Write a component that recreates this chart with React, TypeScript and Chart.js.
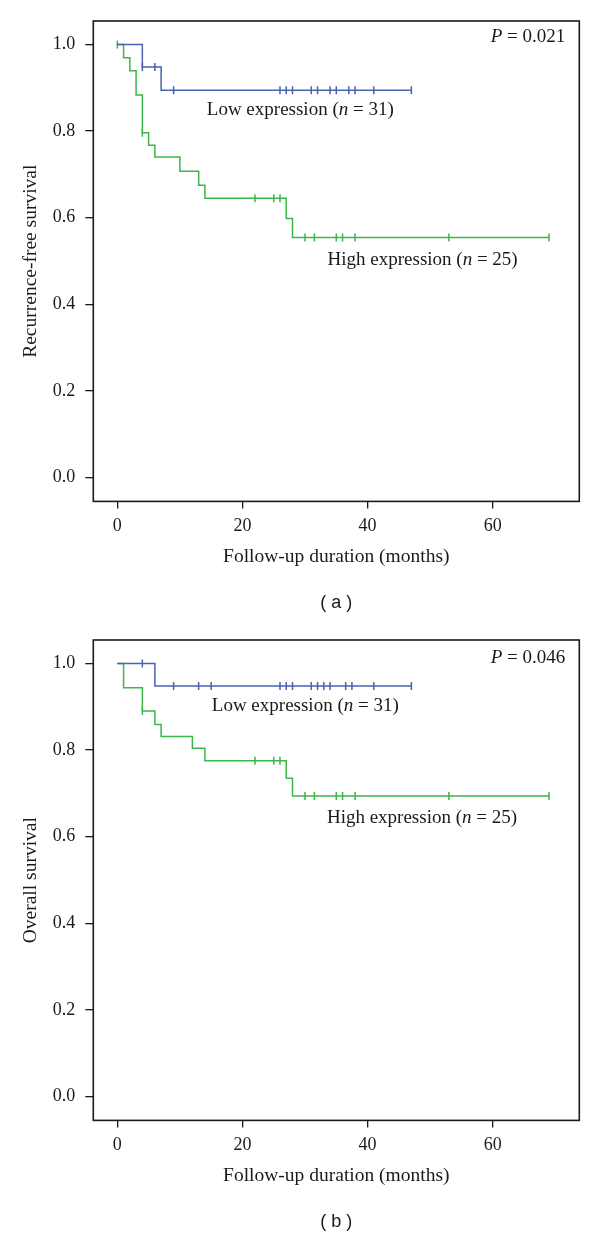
import React, { useEffect, useRef } from 'react';
import { Chart, registerables } from 'chart.js';

Chart.register(...registerables);

// ---------- shared axis ticks ----------
const xTickValues = [0, 20, 40, 60];
const yTickValues = [0, 0.2, 0.4, 0.6, 0.8, 1.0];

// ---------- Panel (a): recurrence-free survival ----------
const rfsLowTimes = [0, 4, 7, 47];
const rfsLowSurv = [1.0, 0.948, 0.894, 0.894];
const rfsLowCensor = [4, 6, 9, 26, 27, 28, 31, 32, 34, 35, 37, 38, 41, 47];

const rfsHighTimes = [0, 1, 2, 3, 4, 5, 6, 10, 13, 14, 27, 28, 69];
const rfsHighSurv = [1.0, 0.969, 0.939, 0.883, 0.796, 0.767, 0.74, 0.707, 0.675, 0.645, 0.598, 0.554, 0.554];
const rfsHighCensor = [0, 4, 22, 25, 26, 30, 31.5, 35, 36, 38, 53, 69];

// ---------- Panel (b): overall survival ----------
const osLowTimes = [0, 6, 47];
const osLowSurv = [1.0, 0.948, 0.948];
const osLowCensor = [4, 9, 13, 15, 26, 27, 28, 31, 32, 33, 34, 36.5, 37.5, 41, 47];

const osHighTimes = [0, 1, 4, 6, 7, 12, 14, 27, 28, 69];
const osHighSurv = [1.0, 0.944, 0.89, 0.859, 0.831, 0.804, 0.775, 0.735, 0.694, 0.694];
const osHighCensor = [4, 22, 25, 26, 30, 31.5, 35, 36, 38, 53, 69];

// ---------- styles ----------
const SERIF = '"Liberation Serif", "Times New Roman", serif';
const SANS = '"Liberation Sans", Arial, sans-serif';
const INK = '#1a1a1a';
const BLUE = '#4a62b0';
const GREEN = '#3cb54a';

type Seg = { text: string; italic?: boolean };
type Note = { t: number; s: number; align: 'left' | 'right'; segs: Seg[] };

type PanelCfg = {
  caption: string;
  yTitle: string;
  lowTimes: number[];
  lowSurv: number[];
  lowCensor: number[];
  highTimes: number[];
  highSurv: number[];
  highCensor: number[];
  notes: Note[];
};

function stepAt(times: number[], surv: number[], t: number) {
  let v = surv[0];
  for (let i = 0; i < times.length; i++) if (times[i] <= t) v = surv[i];
  return v;
}

const boxPlugin = {
  id: 'boxPlugin',
  afterDraw(chart: any) {
    const { ctx, chartArea } = chart;
    ctx.save();
    ctx.strokeStyle = INK;
    ctx.lineWidth = 1.6;
    ctx.strokeRect(chartArea.left, chartArea.top, chartArea.right - chartArea.left, chartArea.bottom - chartArea.top);
    ctx.restore();
  },
};

const notesPlugin = {
  id: 'notesPlugin',
  afterDraw(chart: any, _args: any, opts: any) {
    const notes: Note[] = opts.notes || [];
    const size: number = opts.size || 19;
    const { ctx } = chart;
    const xs = chart.scales.x;
    const ys = chart.scales.y;
    ctx.save();
    ctx.fillStyle = INK;
    ctx.textBaseline = 'middle';
    ctx.textAlign = 'left';
    for (const n of notes) {
      const fonts = n.segs.map((sg) => `${sg.italic ? 'italic ' : ''}${size}px ${SERIF}`);
      const widths = n.segs.map((sg, i) => {
        ctx.font = fonts[i];
        return ctx.measureText(sg.text).width;
      });
      const total = widths.reduce((a, b) => a + b, 0);
      const px = xs.getPixelForValue(n.t);
      const py = ys.getPixelForValue(n.s);
      let x = n.align === 'left' ? px : px - total;
      n.segs.forEach((sg, i) => {
        ctx.font = fonts[i];
        ctx.fillText(sg.text, x, py);
        x += widths[i];
      });
    }
    ctx.restore();
  },
};

function KMPanel({ cfg }: { cfg: PanelCfg }) {
  const ref = useRef<HTMLCanvasElement>(null);
  useEffect(() => {
    if (!ref.current) return;
    const curve = (times: number[], surv: number[]) => times.map((t, i) => ({ x: t, y: surv[i] }));
    const marks = (cens: number[], times: number[], surv: number[]) =>
      cens.map((t) => ({ x: t, y: stepAt(times, surv, t) }));

    const chart = new Chart(ref.current, {
      type: 'line',
      data: {
        datasets: [
          {
            data: curve(cfg.lowTimes, cfg.lowSurv),
            borderColor: BLUE,
            borderWidth: 1.5,
            pointRadius: 0,
            stepped: true,
            fill: false,
          },
          {
            data: marks(cfg.lowCensor, cfg.lowTimes, cfg.lowSurv),
            showLine: false,
            borderColor: BLUE,
            borderWidth: 1.5,
            pointStyle: 'line',
            pointRotation: 90,
            pointRadius: 4,
          },
          {
            data: curve(cfg.highTimes, cfg.highSurv),
            borderColor: GREEN,
            borderWidth: 1.5,
            pointRadius: 0,
            stepped: true,
            fill: false,
          },
          {
            data: marks(cfg.highCensor, cfg.highTimes, cfg.highSurv),
            showLine: false,
            borderColor: GREEN,
            borderWidth: 1.5,
            pointStyle: 'line',
            pointRotation: 90,
            pointRadius: 4,
          },
        ] as any,
      },
      options: {
        animation: false,
        responsive: false,
        devicePixelRatio: 1,
        events: [],
        layout: { padding: { top: 21, right: 20.7, left: 0, bottom: 0 } },
        plugins: {
          legend: { display: false },
          tooltip: { enabled: false },
          title: {
            display: true,
            text: cfg.caption,
            position: 'bottom',
            fullSize: false,
            color: INK,
            font: { family: SANS, size: 18, weight: 'normal' },
            padding: { top: 9.4, bottom: 4.8 },
          },
          notesPlugin: { notes: cfg.notes, size: 19 },
        } as any,
        scales: {
          x: {
            type: 'linear',
            min: -3.84,
            max: 73.84,
            afterBuildTicks: (s: any) => {
              s.ticks = xTickValues.map((v) => ({ value: v }));
            },
            afterFit: (s: any) => {
              s.height = 81.8;
            },
            grid: { display: true, drawOnChartArea: false, drawTicks: true, tickLength: 7, color: INK, lineWidth: 1.3 },
            border: { display: false },
            ticks: { color: INK, font: { family: SERIF, size: 18 }, padding: 7, maxRotation: 0, autoSkip: false },
            title: {
              display: true,
              text: 'Follow-up duration (months)',
              color: INK,
              font: { family: SERIF, size: 19.5 },
              padding: { top: 0, bottom: 15 },
            },
          },
          y: {
            type: 'linear',
            min: -0.055,
            max: 1.054,
            afterBuildTicks: (s: any) => {
              s.ticks = yTickValues.map((v) => ({ value: v }));
            },
            afterFit: (s: any) => {
              s.width = 93.3;
            },
            grid: { display: true, drawOnChartArea: false, drawTicks: true, tickLength: 8, color: INK, lineWidth: 1.3 },
            border: { display: false },
            ticks: {
              color: INK,
              font: { family: SERIF, size: 18 },
              padding: 10,
              callback: (v: any) => Number(v).toFixed(1),
            },
            title: {
              display: true,
              text: cfg.yTitle,
              color: INK,
              font: { family: SERIF, size: 19.5 },
              padding: { top: 19.3, bottom: 0 },
            },
          },
        },
      } as any,
      plugins: [boxPlugin, notesPlugin],
    });
    return () => chart.destroy();
  }, [cfg]);
  return (
    <div style={{ width: 600, height: 619 }}>
      <canvas ref={ref} width={600} height={619} style={{ display: 'block' }} />
    </div>
  );
}

const panelA: PanelCfg = {
  caption: '( a )',
  yTitle: 'Recurrence-free survival',
  lowTimes: rfsLowTimes,
  lowSurv: rfsLowSurv,
  lowCensor: rfsLowCensor,
  highTimes: rfsHighTimes,
  highSurv: rfsHighSurv,
  highCensor: rfsHighCensor,
  notes: [
    { t: 71.6, s: 1.017, align: 'right', segs: [{ text: 'P', italic: true }, { text: ' = 0.021' }] },
    { t: 14.3, s: 0.848, align: 'left', segs: [{ text: 'Low expression (' }, { text: 'n', italic: true }, { text: ' = 31)' }] },
    { t: 33.6, s: 0.502, align: 'left', segs: [{ text: 'High expression (' }, { text: 'n', italic: true }, { text: ' = 25)' }] },
  ],
};

const panelB: PanelCfg = {
  caption: '( b )',
  yTitle: 'Overall survival',
  lowTimes: osLowTimes,
  lowSurv: osLowSurv,
  lowCensor: osLowCensor,
  highTimes: osHighTimes,
  highSurv: osHighSurv,
  highCensor: osHighCensor,
  notes: [
    { t: 71.6, s: 1.012, align: 'right', segs: [{ text: 'P', italic: true }, { text: ' = 0.046' }] },
    { t: 15.1, s: 0.902, align: 'left', segs: [{ text: 'Low expression (' }, { text: 'n', italic: true }, { text: ' = 31)' }] },
    { t: 33.5, s: 0.643, align: 'left', segs: [{ text: 'High expression (' }, { text: 'n', italic: true }, { text: ' = 25)' }] },
  ],
};

export default function App() {
  useEffect(() => {
    document.body.style.margin = '0';
  }, []);
  return (
    <div style={{ width: 600, height: 1238, background: '#fff' }}>
      <KMPanel cfg={panelA} />
      <KMPanel cfg={panelB} />
    </div>
  );
}
